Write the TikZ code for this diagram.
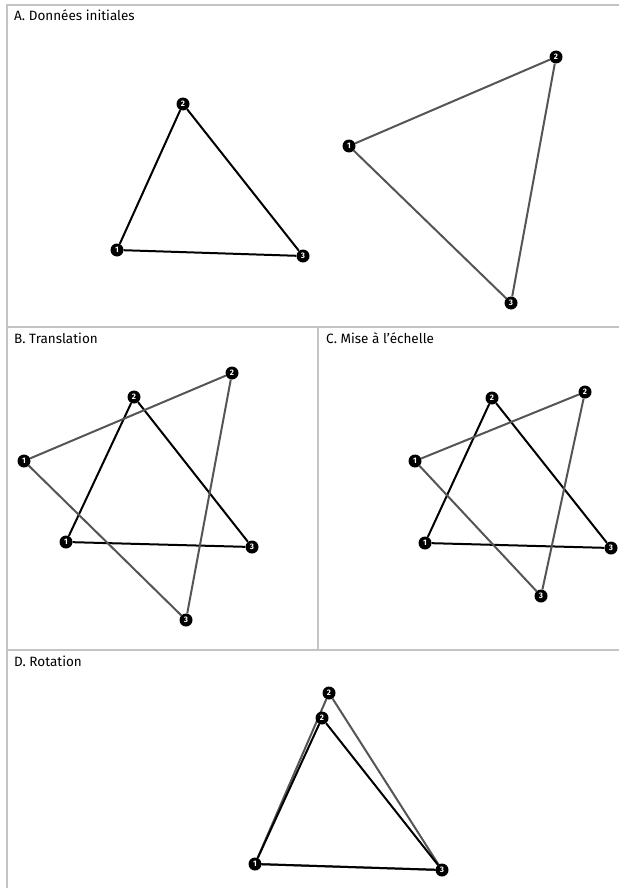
\documentclass[tikz,border=0pt]{standalone}
\usepackage{fontspec}
\setmainfont{Fira Sans}
\usetikzlibrary{positioning}
\definecolor{frame}{HTML}{C4C4C4}
\definecolor{ghost}{HTML}{555555}

\begin{document}
\begin{tikzpicture}[x=1pt,y=-1pt,
  vtx/.style={circle,fill=black,inner sep=0pt,minimum size=13pt,text=white,font=\fontsize{8}{9}\selectfont\bfseries},
  orig/.style={draw=black,line width=2pt},
  moved/.style={draw=ghost,line width=2pt},
  cell/.style={draw=frame,line width=1.2pt},
  title/.style={anchor=base west,inner sep=0pt,font=\fontsize{13.5}{15}\selectfont}]
\useasboundingbox (0,0) rectangle (619,888);
% frame
\draw[cell] (619,5) -- (7,5) -- (7,888);
\draw[cell] (7,327) -- (619,327);
\draw[cell] (7,650) -- (619,650);
\draw[cell] (318,327) -- (318,650);
\node (ta) [title] at (14,21) {A. Données initiales};
\node (tb) [title] at (14,343) {B. Translation};
\node (tc) [title] at (326,343) {C. Mise à l’échelle};
\node (td) [title] at (14,666) {D. Rotation};
% A
\node (a1) [vtx] at (117,250) {1};
\node (a2) [vtx] at (183,104) {2};
\node (a3) [vtx] at (303,256) {3};
\node (p1) [vtx] at (349,146) {1};
\node (p2) [vtx] at (556,57) {2};
\node (p3) [vtx] at (511,303) {3};
\draw[orig] (a1) -- (a2) -- (a3) -- (a1);
\draw[moved] (p1) -- (p2) -- (p3) -- (p1);
% B
\node (b1) [vtx] at (66,542) {1};
\node (b2) [vtx] at (134,397) {2};
\node (b3) [vtx] at (252,547) {3};
\node (q1) [vtx] at (24,461) {1};
\node (q2) [vtx] at (232,373) {2};
\node (q3) [vtx] at (186,620) {3};
\draw[orig] (b1) -- (b2) -- (b3) -- (b1);
\draw[moved] (q1) -- (q2) -- (q3) -- (q1);
% C
\node (c1) [vtx] at (425,543) {1};
\node (c2) [vtx] at (492,398) {2};
\node (c3) [vtx] at (611,548) {3};
\node (r1) [vtx] at (415,461) {1};
\node (r2) [vtx] at (585,392) {2};
\node (r3) [vtx] at (541,596) {3};
\draw[orig] (c1) -- (c2) -- (c3) -- (c1);
\draw[moved] (r1) -- (r2) -- (r3) -- (r1);
% D
\node (s2) [vtx] at (329,693) {2};
\draw[moved] (s2) -- (442,870) -- (255,864) -- (s2);
\node (d1) [vtx] at (255,864) {1};
\node (d2) [vtx] at (322,718) {2};
\node (d3) [vtx] at (442,870) {3};
\draw[orig] (d1) -- (d2) -- (d3) -- (d1);
\end{tikzpicture}
\end{document}
